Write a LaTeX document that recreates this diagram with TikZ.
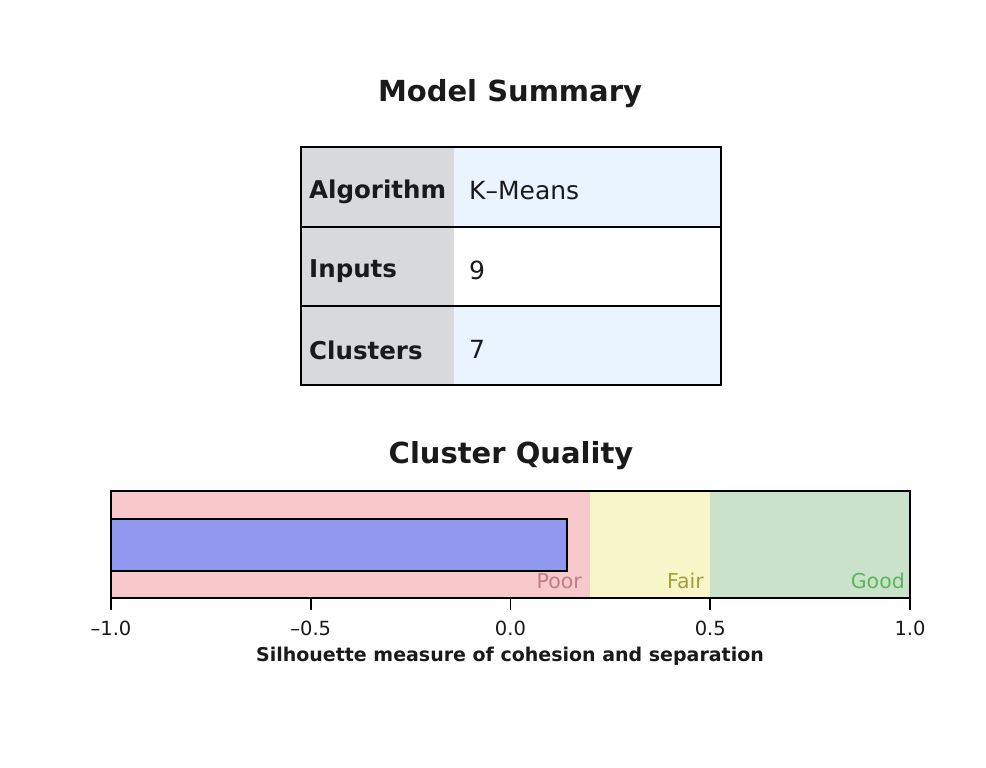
\documentclass[tikz,border=0pt]{standalone}
\usepackage{fontspec}
\setmainfont{DejaVu Sans}
\begin{document}
\definecolor{hdrgray}{HTML}{D8D9DB}
\definecolor{rowblue}{HTML}{EAF4FE}
\definecolor{poorbg}{HTML}{F7C9CA}
\definecolor{fairbg}{HTML}{F8F6C8}
\definecolor{goodbg}{HTML}{CAE2CA}
\definecolor{barblue}{HTML}{9097EF}
\definecolor{poortxt}{HTML}{BF7F85}
\definecolor{fairtxt}{HTML}{A3A03A}
\definecolor{goodtxt}{HTML}{5CB55C}
\definecolor{ink}{HTML}{1A1A1A}
\begin{tikzpicture}[x=1pt,y=-1pt,
  title/.style={font=\fontsize{29}{34}\selectfont\bfseries, text=ink},
  hdr/.style={font=\fontsize{24.5}{28}\selectfont\bfseries, anchor=west, inner sep=0pt, text=ink},
  val/.style={font=\fontsize{25}{28}\selectfont, anchor=west, inner sep=0pt, text=ink},
  tick/.style={font=\fontsize{19.5}{22}\selectfont, text=ink},
  band/.style={font=\fontsize{20.5}{24}\selectfont, anchor=east, inner sep=0pt},
  frame/.style={draw=black, line width=1.8pt}]
\useasboundingbox (0,0) rectangle (986,768);
% Model Summary
\node[title] (t1) at (510,94) {Model Summary};
\fill[hdrgray] (301,147) rectangle (454,385);
\fill[rowblue] (454,147) rectangle (721,227);
\fill[white] (454,227) rectangle (721,306);
\fill[rowblue] (454,306) rectangle (721,385);
\draw[frame] (301,227) -- (721,227);
\draw[frame] (301,306) -- (721,306);
\draw[frame] (301,147) rectangle (721,385);
\node[hdr] (h1) at (309,192) {Algorithm};
\node[hdr] (h2) at (309,271) {Inputs};
\node[hdr] (h3) at (309,350) {Clusters};
\node[val] (v1) at (469,191) {K–Means};
\node[val] (v2) at (469,270) {9};
\node[val] (v3) at (469,349) {7};
% Cluster Quality
\node[title] (t2) at (511,456) {Cluster Quality};
\fill[poorbg] (111,491) rectangle (590.4,598);
\fill[fairbg] (590.4,491) rectangle (710.25,598);
\fill[goodbg] (710.25,491) rectangle (910,598);
\draw[frame, fill=barblue] (111,519) rectangle (567,571);
\draw[frame] (111,491) rectangle (910,598);
\node[band, text=poortxt] (pl) at (582,581) {Poor};
\node[band, text=fairtxt] (fl) at (704,581) {Fair};
\node[band, text=goodtxt] (gl) at (905,581) {Good};
\foreach \v/\l [count=\i] in {-1/–1.0,-0.5/–0.5,0/0.0,0.5/0.5,1/1.0}{
  \coordinate (tk\i) at ({510.5+399.5*\v},598);
  \draw[line width=1.8pt] (tk\i) -- ++(0,12);
  \node[tick] (tl\i) at ({510.5+399.5*\v},628) {\l};
}
\node[font=\fontsize{19}{22}\selectfont\bfseries, text=ink] (xl) at (510,656) {Silhouette measure of cohesion and separation};
\end{tikzpicture}
\end{document}
